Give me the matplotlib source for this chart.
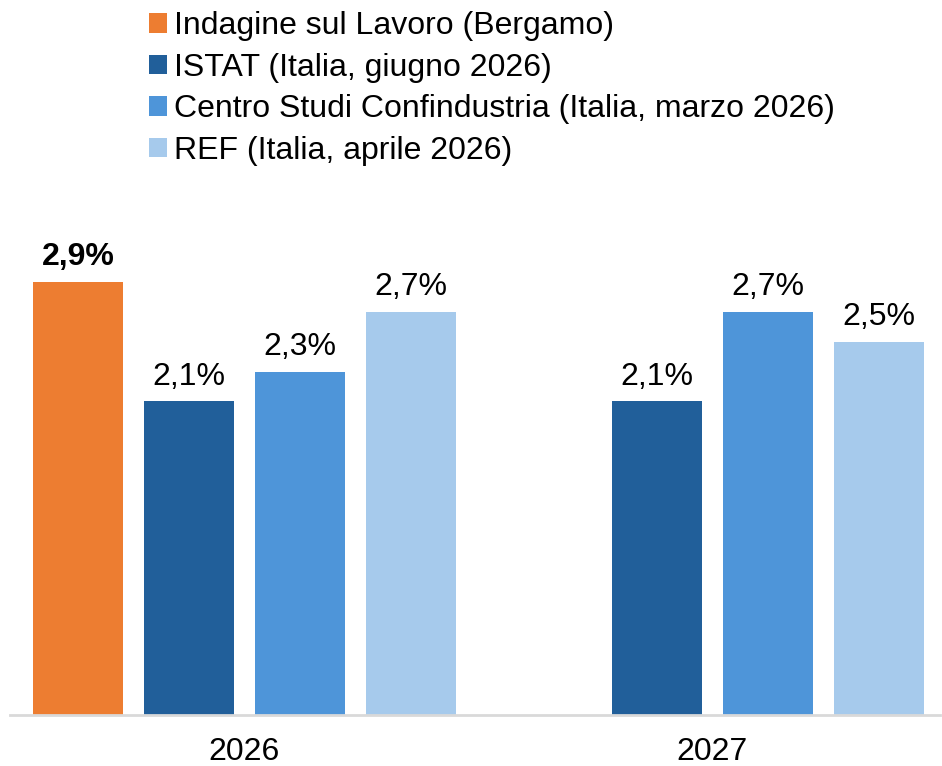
import matplotlib
matplotlib.use("Agg")
import matplotlib.pyplot as plt
from matplotlib.patches import Patch
import numpy as np

plt.rcParams['font.family'] = ['Liberation Sans', 'DejaVu Sans']

years = ["2026", "2027"]
series_names = [
    "Indagine sul Lavoro (Bergamo)",
    "ISTAT (Italia, giugno 2026)",
    "Centro Studi Confindustria (Italia, marzo 2026)",
    "REF (Italia, aprile 2026)",
]
bergamo = [2.9, None]
istat = [2.1, 2.1]
csc = [2.3, 2.7]
ref = [2.7, 2.5]
colors = ["#ED7D31", "#215F9A", "#4E95D9", "#A6CAEC"]

W, H = 942, 766
FS = 23
fig = plt.figure(figsize=(W / 100, H / 100), dpi=100)
ax_left, ax_right, ax_bottom, ax_top = 10, 940, 715, 200
ax = fig.add_axes([ax_left / W, 1 - ax_bottom / H, (ax_right - ax_left) / W, (ax_bottom - ax_top) / H])

px_per_unit = 468
slot = 111 / px_per_unit
bw = 90 / px_per_unit
x = np.arange(len(years))

all_series = [bergamo, istat, csc, ref]
for i, (vals, c) in enumerate(zip(all_series, colors)):
    offs = (i - 1.5) * slot
    for j, v in enumerate(vals):
        if v is None:
            continue
        ax.bar(x[j] + offs, v, width=bw, color=c, zorder=2)
        lbl = f"{v:.1f}%".replace(".", ",")
        ax.annotate(lbl, (x[j] + offs, v), xytext=(0, 7), textcoords="offset points",
                    ha="center", va="bottom", fontsize=FS,
                    fontweight="bold" if i == 0 else "normal", color="black")

x0 = -(244.5 - ax_left) / px_per_unit
ax.set_xlim(x0, x0 + (ax_right - ax_left) / px_per_unit)
ax.set_ylim(0, (ax_bottom - ax_top) / 149.3)
ax.set_xticks(x)
ax.set_xticklabels(years, fontsize=FS)
ax.tick_params(axis="x", length=0, pad=16)
ax.set_yticks([])
for s in ["top", "right", "left"]:
    ax.spines[s].set_visible(False)
ax.spines["bottom"].set_color("#D9D9D9")
ax.spines["bottom"].set_linewidth(2)

handles = [Patch(facecolor=c, edgecolor="none") for c in colors]
fig.legend(handles, series_names, loc="upper left", bbox_to_anchor=(146 / W, 1 - 8 / H),
           frameon=False, fontsize=FS, handlelength=0.55, handleheight=0.55,
           handletextpad=0.22, labelspacing=0.36, borderaxespad=0, borderpad=0.1)

fig.savefig("out.png", dpi=100)
